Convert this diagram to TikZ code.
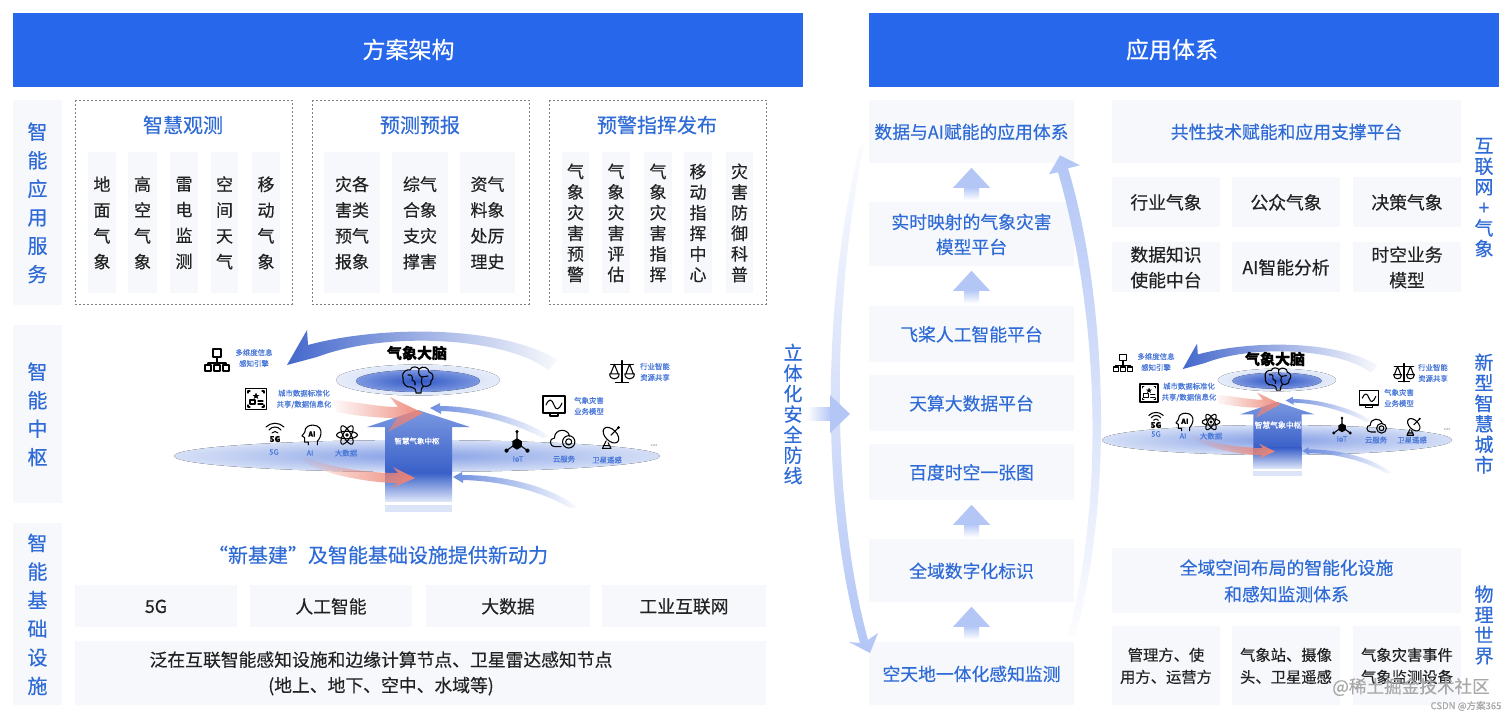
\documentclass[tikz,border=0pt]{standalone}
\usepackage{fontspec}
\setmainfont[FakeBold=0.35]{Noto Sans CJK SC}
\usetikzlibrary{fadings}
\definecolor{hdr}{HTML}{2667EC}
\definecolor{pan}{HTML}{F6F8FB}
\definecolor{ttl}{HTML}{2F6BD6}
\definecolor{txt}{HTML}{222222}
\definecolor{soft}{HTML}{4A78D8}
\definecolor{arcb}{HTML}{B3C6F6}
\definecolor{fatb}{HTML}{4468CC}
\definecolor{thinb}{HTML}{6D8DE0}
\definecolor{redb}{HTML}{EE8474}
\definecolor{wm}{HTML}{A8A8A8}
\definecolor{ringo}{HTML}{E6ECFA}
\definecolor{ringi}{HTML}{C5D2F3}
\definecolor{coreo}{HTML}{7C97E0}
\definecolor{corei}{HTML}{2F56C4}
\definecolor{disco}{HTML}{D5DFF6}
\definecolor{disci}{HTML}{86A0E6}
\definecolor{shafta}{HTML}{7A98E0}
\definecolor{shaftb}{HTML}{3A60C9}
\definecolor{shaftc}{HTML}{DCE4F8}
\newcommand\fpx[2]{\fontsize{\the\dimexpr #1pt*3/4\relax}{\the\dimexpr #2pt*3/4\relax}\selectfont}
\tikzfading[name=fdE, left color=transparent!0, middle color=transparent!50, right color=transparent!97]
\tikzfading[name=fdW, left color=transparent!97, middle color=transparent!35, right color=transparent!0]
\tikzfading[name=fdN, top color=transparent!95, middle color=transparent!5, bottom color=transparent!0]
\tikzfading[name=fdS, top color=transparent!0, middle color=transparent!5, bottom color=transparent!97]
\tikzset{
  panel/.style={fill=pan,draw=none,inner sep=0pt},
  fpxs/.style 2 args={font=\fpx{#1}{#2}},
  lbl/.style={inner sep=0pt,align=center,text=txt},
  blu/.style={text=ttl},
  mini/.style={inner sep=0pt,align=center,text=soft,font=\fpx{7.4}{11}},
  ico/.style={draw=black,line width=0.8pt,line join=round,line cap=round,fill=none},
  dashbox/.style={draw=black!50,line width=0.7pt,dash pattern=on 1.5pt off 1.5pt,fill=none,inner sep=0pt},
}
% name, x1,y1,x2,y2, style, text
\newcommand\bx[7]{%
  \pgfmathsetmacro\bw{(#4-#2)*.75}\pgfmathsetmacro\bh{(#5-#3)*.75}%
  \node[panel,minimum width=\bw pt,minimum height=\bh pt] (#1) at ({(#2+#4)/2},{(#3+#5)/2}) {};
  \node[lbl,yshift=-0.3pt,#6] (#1t) at (#1) {#7};}
% up chevron hanging under a node
\newcommand\chev[1]{%
  \begin{scope}[shift={(#1.south)}]
    \shade[top color=arcb,bottom color=white] (-7.5,24) rectangle (7.5,37);
    \fill[arcb] (0,4.5) -- (18.5,24.5) -- (-18.5,24.5) -- cycle;
  \end{scope}}
% hub shapes, relative to the centre of the brain ellipse
\newcommand\hubshapes{%
  \fill[inner color=ringi,outer color=ringo] (0,0) ellipse (82 and 15.5);
  \fill[inner color=corei,outer color=coreo] (0,1) ellipse (62 and 11);
  % main arrow
  \shade[top color=shafta,bottom color=shaftb] (0,30) -- (52,47) -- (34,47) -- (34,93) -- (-33,93) -- (-33,47) -- (-51,47) -- cycle;
  \shade[top color=shaftb,bottom color=shaftc] (-33,93) rectangle (34,121);
  \fill[shaftc] (-33,125) rectangle (34,132);
  % red arrows
  \fill[redb,path fading=fdW,opacity=.95] (-85,20) .. controls (-60,22) and (-40,27) .. (-20,27) -- (-28,17) -- (5,33) -- (-30,52) -- (-21,38) .. controls (-40,38) and (-60,36) .. (-82,32) -- cycle;
  \fill[redb,path fading=fdW] (-118,75) .. controls (-90,88) and (-50,93) .. (-20,93) -- (-25,87) -- (-3,98) -- (-26,108) -- (-20,103) .. controls (-50,103) and (-95,94) .. (-113,82) -- cycle;
  % thin blue arrows
  \fill[thinb,path fading=fdE] (12,28) -- (22,23) -- (22,26) .. controls (60,26) and (110,40) .. (132,57) -- (125,58) .. controls (100,45) and (60,32) .. (23,31) -- (23,34) -- cycle;
  \fill[thinb,path fading=fdE] (35,97) -- (44,92) -- (44,95) .. controls (90,95) and (135,108) .. (159,127) -- (152,128) .. controls (125,112) and (85,101) .. (45,100) -- (45,103) -- cycle;
  % big curved arrow
  \fill[fatb,path fading=fdE] (-131,-15) -- (-111,-50) -- (-110,-35) .. controls (-40,-54) and (80,-56) .. (140,-20) -- (130,-10) .. controls (90,-42) and (-30,-50) .. (-101,-23) -- cycle;
}
\newcommand\icBrain[3]{\begin{scope}[shift={(#1,#2)},scale=#3]
  \draw[ico] (-15,-2) .. controls (-17,-9) and (-10,-11) .. (-8,-10) .. controls (-6,-15) and (0,-13) .. (1,-11) .. controls (5,-15) and (11,-12) .. (11,-8) .. controls (16,-7) and (16,-1) .. (13,1) .. controls (14,6) and (8,7) .. (6,6) .. controls (4,7) and (3,8) .. (3,13) -- (-2,13) .. controls (-2,9) and (-4,7) .. (-7,7) .. controls (-12,8) and (-16,3) .. (-15,-2) -- cycle;
  \draw[ico] (-10,-5) .. controls (-6,-6) and (-5,-3) .. (-6,0) (-6,0) .. controls (-3,1) and (-2,3) .. (-3,5) (1,-11) .. controls (0,-7) and (1,-4) .. (4,-3) (4,-3) .. controls (3,0) and (3,3) .. (5,6) (10,-4) .. controls (8,-4) and (6,-3) .. (4,-3);
\end{scope}}
\newcommand\icOrg[3]{\begin{scope}[shift={(#1,#2)},scale=#3]
  \draw[ico] (-4,-11) rectangle (4,-3) (0,-3) -- (0,3) (-9,3) -- (9,3) (-9,3) -- (-9,5) (9,3) -- (9,5) (-12,5) rectangle (-6,11) (-3,5) rectangle (3,11) (6,5) rectangle (12,11);
\end{scope}}
\newcommand\icScale[3]{\begin{scope}[shift={(#1,#2)},scale=#3]
  \draw[ico] (0,-12) -- (0,11) (-7,11) -- (7,11) (-12,-8) -- (12,-8);
  \draw[ico] (-12,2) -- (-8,-8) -- (-4,2) (-13,2) -- (-3,2) (-13,2) .. controls (-13,9) and (-3,9) .. (-3,2);
  \draw[ico] (12,2) -- (8,-8) -- (4,2) (13,2) -- (3,2) (13,2) .. controls (13,9) and (3,9) .. (3,2);
\end{scope}}
\newcommand\icFrame[3]{\begin{scope}[shift={(#1,#2)},scale=#3]
  \draw[ico,line width=1.1pt] (-10.5,-10.5) rectangle (10.5,10.5);
  \draw[ico] (-8,-6) -- (-8,-8) -- (-6,-8) (6,-8) -- (8,-8) -- (8,-6) (-8,6) -- (-8,8) -- (-6,8) (6,8) -- (8,8) -- (8,6);
  \fill (0,-6.5) -- (1,-4) -- (3.5,-4) -- (1.5,-2.5) -- (2.3,0) -- (0,-1.5) -- (-2.3,0) -- (-1.5,-2.5) -- (-3.5,-4) -- (-1,-4) -- cycle;
  \draw[ico] (-6,1) rectangle (-1,5) (2,2) -- (7,2) (2,5) -- (7,5);
\end{scope}}
\newcommand\icMon[3]{\begin{scope}[shift={(#1,#2)},scale=#3]
  \draw[ico,line width=1pt] (-11,-10) rectangle (11,7) (-4,7) rectangle (4,10);
  \draw[ico] (-8,-1) .. controls (-5,-8) and (-2,-7) .. (0,-1) .. controls (2,5) and (5,4) .. (8,-3);
\end{scope}}
\newcommand\icFive[4]{\begin{scope}[shift={(#1,#2)},scale=#3]
  \draw[ico] (-9,-7) .. controls (-4,-12) and (4,-12) .. (9,-7) (-6,-4) .. controls (-3,-8) and (3,-8) .. (6,-4) (-3,-1) .. controls (-1,-3) and (1,-3) .. (3,-1);
\end{scope}
\node[lbl,text=black,font=\fpx{8}{9}\bfseries] (#4) at (#1,{#2+5*#3}) {5G};}
\newcommand\icHead[4]{\begin{scope}[shift={(#1,#2)},scale=#3]
  \draw[ico] (-3,11) -- (-3,8) -- (-7,8) -- (-7,3) -- (-10,1) -- (-7,-3) .. controls (-7,-10) and (-1,-11) .. (2,-11) .. controls (9,-11) and (12,-6) .. (11,-1) .. controls (10,4) and (8,6) .. (7,7) -- (7,11);
\end{scope}
\node[lbl,text=black,font=\fpx{7}{8}\bfseries] (#4) at ({#1+1*#3},{#2-1*#3}) {AI};}
\newcommand\icAtom[3]{\begin{scope}[shift={(#1,#2)},scale=#3]
  \draw[ico] (0,0) ellipse (11 and 4);
  \draw[ico,rotate=60] (0,0) ellipse (11 and 4);
  \draw[ico,rotate=-60] (0,0) ellipse (11 and 4);
  \fill (0,0) circle (2);
\end{scope}}
\newcommand\icIot[3]{\begin{scope}[shift={(#1,#2)},scale=#3]
  \draw[ico] (0,-12) -- (0,0) (-11,8) -- (0,0) -- (11,8);
  \fill (0,-5) -- (5,-2) -- (5,4) -- (0,7) -- (-5,4) -- (-5,-2) -- cycle;
  \fill (0,-12) circle (1.8) (-11,8) circle (2.2) (11,8) circle (2.2);
\end{scope}}
\newcommand\icCloud[3]{\begin{scope}[shift={(#1,#2)},scale=#3]
  \draw[ico] (-2,8) -- (-8,8) .. controls (-15,8) and (-15,-1) .. (-9,-1) .. controls (-9,-11) and (5,-12) .. (7,-3);
  \draw[ico] (6,3) circle (6.5);
  \draw[ico] (6,3) circle (3.2);
\end{scope}}
\newcommand\icDish[3]{\begin{scope}[shift={(#1,#2)},scale=#3]
  \draw[ico,rotate around={-45:(1,-3)}] (1,-3) ellipse (10 and 6);
  \draw[ico] (1,-3) -- (9,-11);
  \fill (9,-11) circle (1.6);
  \draw[ico] (-4,3) -- (-8,11) -- (1,11) -- (-2,5) (-7,8) -- (0,8);
\end{scope}}
\begin{document}
\begin{tikzpicture}[x=0.75pt,y=-0.75pt]
\useasboundingbox (0,0) rectangle (1512,718);
\fill[white] (0,0) rectangle (1512,718);
% headers
\fill[hdr] (13,13) rectangle (803,87);
\node[lbl,text=white,fpxs={23}{30}] (h1) at (408.5,49.5) {方案架构};
\fill[hdr] (869,13) rectangle (1499,87);
\node[lbl,text=white,fpxs={23}{30}] (h2) at (1172,49.5) {应用体系};
% left side labels
\bx{s1}{13}{100}{62}{305}{blu,fpxs={20}{28.5}}{智\\能\\应\\用\\服\\务}
\bx{s2}{13}{325}{62}{503}{blu,fpxs={20}{28.5}}{智\\能\\中\\枢}
\bx{s3}{13}{523}{62}{705}{blu,fpxs={20}{28.6}}{智\\能\\基\\础\\设\\施}
% dashed groups
\draw[dashbox] (75,100) rectangle (292,304);
\draw[dashbox] (312,100) rectangle (529,304);
\draw[dashbox] (549,100) rectangle (766,304);
\node[lbl,blu,fpxs={20}{26}] (t1) at (183,125) {智慧观测};
\node[lbl,blu,fpxs={20}{26}] (t2) at (420,125) {预测预报};
\node[lbl,blu,fpxs={20}{26}] (t3) at (657,125) {预警指挥发布};
\bx{a1}{88}{152}{116}{293}{fpxs={17}{25.8}}{地\\面\\气\\象}
\bx{a2}{128}{152}{157}{293}{fpxs={17}{25.8}}{高\\空\\气\\象}
\bx{a3}{170}{152}{198}{293}{fpxs={17}{25.8}}{雷\\电\\监\\测}
\bx{a4}{211}{152}{238}{293}{fpxs={17}{25.8}}{空\\间\\天\\气}
\bx{a5}{252}{152}{280}{293}{fpxs={17}{25.8}}{移\\动\\气\\象}
\bx{b1}{324}{152}{380}{293}{fpxs={17}{25.8}}{灾各\\害类\\预气\\报象}
\bx{b2}{392}{152}{448}{293}{fpxs={17}{25.8}}{综气\\合象\\支灾\\撑害}
\bx{b3}{460}{152}{515}{293}{fpxs={17}{25.8}}{资气\\料象\\处厉\\理史}
\bx{d1}{562}{152}{589}{293}{fpxs={17}{20.6}}{气\\象\\灾\\害\\预\\警}
\bx{d2}{602}{152}{630}{293}{fpxs={17}{20.6}}{气\\象\\灾\\害\\评\\估}
\bx{d3}{644}{152}{672}{293}{fpxs={17}{20.6}}{气\\象\\灾\\害\\指\\挥}
\bx{d4}{684}{152}{712}{293}{fpxs={17}{20.6}}{移\\动\\指\\挥\\中\\心}
\bx{d5}{726}{152}{753}{293}{fpxs={17}{20.6}}{灾\\害\\防\\御\\科\\普}
% left bottom
\node[lbl,blu,fpxs={20}{26}] (t4) at (378,555) {“新基建”及智能基础设施提供新动力};
\bx{e1}{75}{585}{237}{627}{fpxs={17.8}{26}}{5G}
\bx{e2}{250}{585}{412}{627}{fpxs={17.8}{26}}{人工智能}
\bx{e3}{426}{585}{590}{627}{fpxs={17.8}{26}}{大数据}
\bx{e4}{602}{585}{766}{627}{fpxs={17.8}{26}}{工业互联网}
\bx{e5}{75}{641}{766}{705}{fpxs={17.8}{25.5},xshift=-29.6pt}{泛在互联智能感知设施和边缘计算节点、卫星雷达感知节点\\(地上、地下、空中、水域等)}
% hub left
\fill[inner color=disci,outer color=disco] (417,456) ellipse (243 and 16);
\begin{scope}[shift={(418,380)}]\hubshapes\end{scope}
\node[lbl,font=\fpx{15}{18}\bfseries,text=black] (br1) at (417,353) {气象大脑};
\icBrain{418}{380}{1}
\icOrg{217}{360}{1}
\node[mini] (l1) at (254,358) {多维度信息\\感知引擎};
\icScale{622}{372}{.95}
\node[mini] (l2) at (655,372) {行业智能\\资源共享};
\icFrame{256}{399}{1}
\node[mini] (l3) at (304,399) {城市数据标准化\\共享/数据信息化};
\icMon{554}{406}{1}
\node[mini] (l4) at (589,406) {气象灾害\\业务模型};
\icFive{275}{434}{1}{g1}
\node[mini] (m1) at (274,452) {5G};
\icHead{311}{435}{.9}{g2}
\node[mini] (m2) at (310,453) {AI};
\icAtom{347}{435}{.95}
\node[mini] (m3) at (346,453) {大数据};
\icIot{517}{443}{.95}
\node[mini] (m4) at (518,459) {IoT};
\icCloud{563}{439}{.95}
\node[mini] (m5) at (564,459) {云服务};
\icDish{610}{438}{.95}
\node[mini] (m6) at (607,460) {卫星遥感};
\node[mini,text=black!60] (m7) at (654,445) {...};
\node[lbl,text=white,fpxs={7.5}{10}] (c0) at (417,441) {智慧气象中枢};
% middle label and arrow
\node[lbl,blu,fpxs={19}{20.5}] (v1) at (793,414) {立\\体\\化\\安\\全\\防\\线};
\fill[arcb,path fading=fdW] (808,407) rectangle (831,421);
\fill[arcb] (830,395) -- (850,414) -- (830,433) -- cycle;
% column
\bx{c1}{869}{100}{1074}{163}{blu,fpxs={17.8}{25}}{数据与AI赋能的应用体系}
\bx{c2}{869}{202}{1074}{266}{blu,fpxs={17.8}{25}}{实时映射的气象灾害\\模型平台}
\bx{c3}{869}{306}{1074}{362}{blu,fpxs={17.8}{25}}{飞桨人工智能平台}
\bx{c4}{869}{375}{1074}{431}{blu,fpxs={17.8}{25}}{天算大数据平台}
\bx{c5}{869}{444}{1074}{500}{blu,fpxs={17.8}{25}}{百度时空一张图}
\bx{c6}{869}{539}{1074}{602}{blu,fpxs={17.8}{25}}{全域数字化标识}
\bx{c7}{869}{642}{1074}{705}{blu,fpxs={17.8}{25}}{空天地一体化感知监测}
\chev{c1}\chev{c2}\chev{c5}\chev{c6}
% side arcs
\fill[arcb,path fading=fdN] (860,145) .. controls (822,300) and (820,500) .. (860,643) -- (849,642) -- (870,653) -- (878,633) -- (868,640) .. controls (830,500) and (832,300) .. (864,145) -- cycle;
\fill[arcb,path fading=fdS] (1060,155) -- (1080,165) -- (1068,168) .. controls (1102,280) and (1118,480) .. (1075,637) -- (1068,637) .. controls (1108,480) and (1095,300) .. (1058,172) -- (1049,174) -- cycle;
% right panels
\bx{r0}{1112}{100}{1461}{163}{blu,fpxs={17.8}{25}}{共性技术赋能和应用支撑平台}
\bx{r1}{1112}{177}{1220}{227}{fpxs={17.8}{25.5}}{行业气象}
\bx{r2}{1232}{177}{1340}{227}{fpxs={17.8}{25.5}}{公众气象}
\bx{r3}{1353}{177}{1461}{227}{fpxs={17.8}{25.5}}{决策气象}
\bx{r4}{1112}{242}{1220}{292}{fpxs={17.8}{25.5}}{数据知识\\使能中台}
\bx{r5}{1232}{242}{1340}{292}{fpxs={17.8}{25.5}}{AI智能分析}
\bx{r6}{1353}{242}{1461}{292}{fpxs={17.8}{25.5}}{时空业务\\模型}
\bx{r7}{1112}{548}{1461}{613}{blu,fpxs={17.8}{26.5}}{全域空间布局的智能化设施\\和感知监测体系}
\bx{r8}{1112}{626}{1220}{705}{fpxs={15.3}{22}}{管理方、使\\用方、运营方}
\bx{r9}{1232}{626}{1340}{705}{fpxs={15.3}{22}}{气象站、摄像\\头、卫星遥感}
\bx{r10}{1353}{626}{1461}{705}{fpxs={15.3}{22}}{气象灾害事件\\气象监测设备}
\node[lbl,blu,fpxs={19}{20.6}] (v2) at (1484,197.5) {互\\联\\网\\+\\气\\象};
\node[lbl,blu,fpxs={19}{20.5}] (v3) at (1484,413.5) {新\\型\\智\\慧\\城\\市};
\node[lbl,blu,fpxs={19}{20.5}] (v4) at (1484,625) {物\\理\\世\\界};
% hub right
\fill[inner color=disci,outer color=disco] (1277,440) ellipse (175 and 15);
\begin{scope}[shift={(1277,380)},xscale=.72,yscale=.73]\hubshapes\end{scope}
\node[lbl,font=\fpx{15}{18}\bfseries,text=black] (br2) at (1275,359) {气象大脑};
\icBrain{1278}{379}{.85}
\icOrg{1123}{363}{.8}
\node[mini] (rl1) at (1156,362) {多维度信息\\感知引擎};
\icScale{1404}{373}{.8}
\node[mini] (rl2) at (1433,373) {行业智能\\资源共享};
\icFrame{1149}{393}{.85}
\node[mini] (rl3) at (1189,392) {城市数据标准化\\共享/数据信息化};
\icMon{1369}{399}{.85}
\node[mini] (rl4) at (1399,398) {气象灾害\\业务模型};
\icFive{1156}{421}{.8}{rg1}
\node[mini] (rm1) at (1156,434) {5G};
\icHead{1184}{422}{.8}{rg2}
\node[mini] (rm2) at (1183,436) {AI};
\icAtom{1211}{422}{.8}
\node[mini] (rm3) at (1211,436) {大数据};
\icIot{1342}{427}{.75}
\node[mini] (rm4) at (1342,439) {IoT};
\icCloud{1377}{426}{.75}
\node[mini] (rm5) at (1376,440) {云服务};
\icDish{1413}{427}{.75}
\node[mini] (rm6) at (1412,440) {卫星遥感};
\node[mini,text=black!60] (rm7) at (1447,429) {...};
\node[lbl,text=white,fpxs={7.8}{10}] (c00) at (1278,425) {智慧气象中枢};
% watermarks
\node[lbl,text=wm,fpxs={17.6}{20}] (w1) at (1411,687) {@稀土掘金技术社区};
\node[lbl,text=wm,fpxs={9.5}{11}] (w2) at (1466,706) {CSDN @方案365};
\end{tikzpicture}
\end{document}
